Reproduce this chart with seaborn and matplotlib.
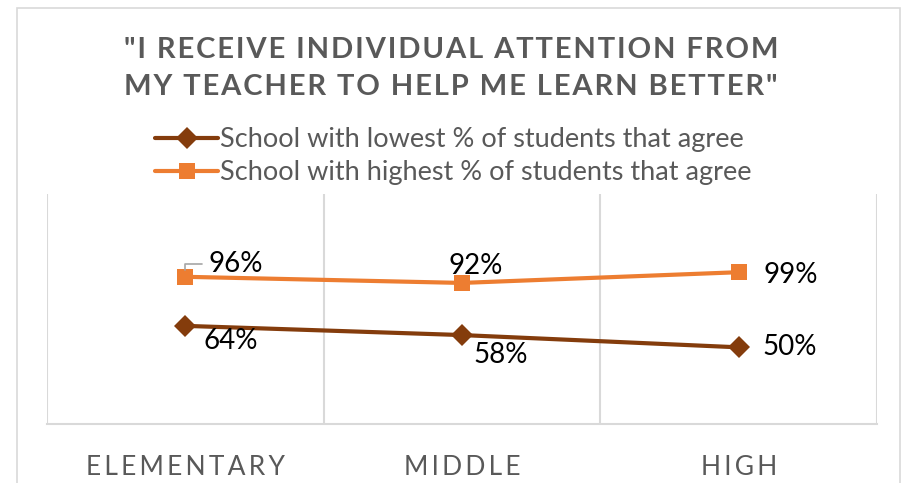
import pandas as pd
import numpy as np
import matplotlib.pyplot as plt
import seaborn as sns
from matplotlib.patches import Rectangle

# Data
levels = ["ELEMENTARY", "MIDDLE", "HIGH"]
lowest = [0.64, 0.58, 0.50]
highest = [0.96, 0.92, 0.99]
series_names = ["School with lowest % of students that agree",
                "School with highest % of students that agree"]
title = '"I RECEIVE INDIVIDUAL ATTENTION FROM\nMY TEACHER TO HELP ME LEARN BETTER"'

df = pd.DataFrame({
    "level": levels * 2,
    "value": lowest + highest,
    "series": [series_names[0]] * 3 + [series_names[1]] * 3,
})

sns.set_theme(style="white")
plt.rcParams["font.family"] = ["Lato", "DejaVu Sans"]

GRAY = "#595959"
GRID = "#D9D9D9"
colors = {series_names[0]: "#843C0C", series_names[1]: "#ED7D31"}


def spaced(s, n=1):
    # Excel-like letter spacing, done with hair spaces
    gap = "\u200a" * n
    return "\n".join(gap.join(line) for line in s.split("\n"))


fig = plt.figure(figsize=(9.02, 4.83), dpi=100)
fig.patch.set_facecolor("white")
fig.add_artist(Rectangle((17 / 902, -0.1), 883 / 902, 1.1 - 8 / 483,
                         transform=fig.transFigure, fill=False,
                         edgecolor=GRID, lw=1.2))

ax = fig.add_axes([47 / 902, 59 / 483, 830 / 902, 230 / 483])
sns.lineplot(data=df, x="level", y="value", hue="series", style="series",
             markers={series_names[0]: "D", series_names[1]: "s"},
             dashes=False, palette=colors, lw=3, markersize=11.5,
             markeredgewidth=0, ax=ax)

ax.set_xlim(-0.5, 2.5)
ax.set_ylim(0, 1.5)
ax.set_yticks([])
ax.set_xlabel("")
ax.set_ylabel("")
for b in [-0.5, 0.5, 1.5, 2.5]:
    ax.axvline(b, color=GRID, lw=1.5, zorder=0)
for side in ["top", "left", "right"]:
    ax.spines[side].set_visible(False)
ax.spines["bottom"].set_color(GRID)
ax.spines["bottom"].set_linewidth(1.5)

ax.set_xticks(range(len(levels)))
ax.set_xticklabels([spaced(l, 2) for l in levels], color=GRAY, fontsize=19)
ax.tick_params(axis="x", length=0, pad=22)

# data labels
low_offsets = [(13, -11), (8, -14), (17, 0)]
for i, v in enumerate(lowest):
    dx, dy = low_offsets[i]
    ax.annotate(f"{v:.0%}", (i, v), xytext=(dx, dy), textcoords="offset points",
                fontsize=20, color="black", va="center", ha="left")
high_offsets = [(17, 9), (-10, 12), (18, -2)]
for i, v in enumerate(highest):
    dx, dy = high_offsets[i]
    if i == 0:
        ax.annotate(f"{v:.0%}", (i, v), xytext=(dx, dy), textcoords="offset points",
                    fontsize=20, color="black", va="center", ha="left",
                    arrowprops=dict(arrowstyle="-", color="#A6A6A6", lw=1.2,
                                    connectionstyle="angle,angleA=0,angleB=90,rad=0",
                                    shrinkA=3, shrinkB=5))
    else:
        ax.annotate(f"{v:.0%}", (i, v), xytext=(dx, dy), textcoords="offset points",
                    fontsize=20, color="black", va="center", ha="left")

leg = ax.legend(loc="lower center", bbox_to_anchor=(0.49, 0.99), frameon=False,
                fontsize=19.5, handlelength=2.3, handletextpad=0.1,
                labelspacing=0.31, borderaxespad=0.0)
for t in leg.get_texts():
    t.set_color(GRAY)

fig.text(0.5, 0.858, spaced(title), ha="center", va="center", fontsize=21,
         fontweight="bold", color=GRAY, linespacing=1.5)

fig.savefig("out.png", dpi=100)
